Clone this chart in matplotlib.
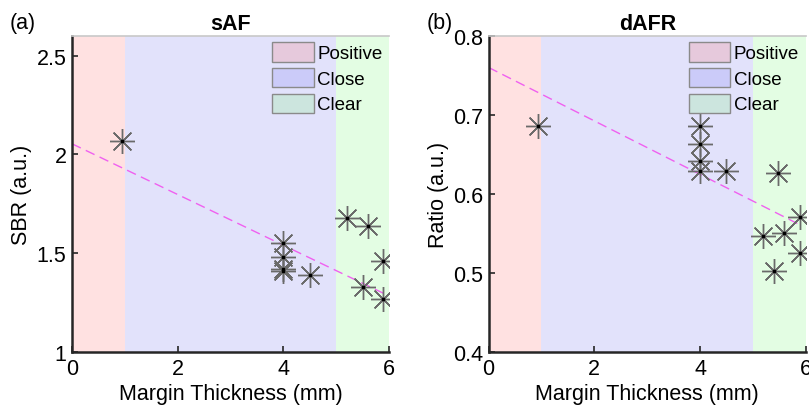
import numpy as np
import matplotlib
matplotlib.use("Agg")
import matplotlib.pyplot as plt
from matplotlib.patches import Patch

plt.rcParams['font.family'] = ['Liberation Sans', 'DejaVu Sans']

# margin classes (mm)
zones = ['Positive', 'Close', 'Clear']
zone_edges = [0, 1, 5, 6]
zone_bg = ['#ffe1e1', '#e2e2fb', '#e3fde3']
zone_leg = ['#e6c9dc', '#cbcbf9', '#cce5de']

# sAF panel
saf_x = [0.95, 4.0, 4.0, 4.0, 4.0, 4.5, 5.2, 5.6, 5.89, 5.5, 5.89]
saf_y = [2.07, 1.55, 1.48, 1.42, 1.41, 1.39, 1.68, 1.64, 1.46, 1.33, 1.27]
saf_fit_x = [0, 5.89]
saf_fit_y = [2.054, 1.298]

# dAFR panel
dafr_x = [0.94, 4.0, 4.0, 4.0, 4.0, 4.49, 5.48, 5.89, 5.19, 5.59, 5.89, 5.40]
dafr_y = [0.686, 0.686, 0.663, 0.642, 0.629, 0.629, 0.627, 0.571, 0.547, 0.551, 0.525, 0.502]
dafr_fit_x = [0, 5.89]
dafr_fit_y = [0.760, 0.561]

fig = plt.figure(figsize=(8.09, 4.14), dpi=100)
ax1 = fig.add_axes([0.089, 0.147, 0.392, 0.764])
ax2 = fig.add_axes([0.604, 0.147, 0.392, 0.764])

panels = [
    (ax1, saf_x, saf_y, saf_fit_x, saf_fit_y, 'sAF', 'SBR (a.u.)', (1, 2.6), [1, 1.5, 2, 2.5]),
    (ax2, dafr_x, dafr_y, dafr_fit_x, dafr_fit_y, 'dAFR', 'Ratio (a.u.)', (0.4, 0.8), [0.4, 0.5, 0.6, 0.7, 0.8]),
]

fs = 15.5
for ax, xs, ys, fx, fy, title, ylab, ylim, yt in panels:
    for i in range(3):
        ax.axvspan(zone_edges[i], zone_edges[i + 1], color=zone_bg[i], lw=0, zorder=0)
    ax.plot(fx, fy, ls=(0, (7, 4)), color='#f060f0', lw=1.0, zorder=2)
    ax.plot(xs, ys, ls='none', marker=(8, 2, 0), ms=18, mec='#6a6a6a', mew=1.0, zorder=3)
    ax.plot(xs, ys, ls='none', marker='s', ms=1.5, color='black', zorder=4)
    ax.set_xlim(0, 6)
    ax.set_ylim(*ylim)
    ax.set_xticks([0, 2, 4, 6])
    ax.set_yticks(yt)
    ax.set_yticklabels([f'{v:g}' for v in yt])
    ax.tick_params(direction='in', length=4, width=1.2, labelsize=fs, colors='#262626', pad=4)
    ax.tick_params(axis='both', labelcolor='black')
    for s in ['left', 'bottom']:
        ax.spines[s].set_linewidth(1.8)
        ax.spines[s].set_color('#262626')
    ax.spines['top'].set_color('#c8c8c8')
    ax.spines['top'].set_linewidth(1.2)
    ax.spines['right'].set_visible(False)
    ax.set_title(title, fontsize=fs, fontweight='bold', pad=5)
    ax.set_xlabel('Margin Thickness (mm)', fontsize=fs, labelpad=3)
    ax.set_ylabel(ylab, fontsize=fs, labelpad=3)
    handles = [Patch(facecolor=zone_leg[i], edgecolor='#8a8a8a', lw=1.0) for i in range(3)]
    ax.legend(handles, zones, loc='upper right', frameon=False, fontsize=13.5,
              handlelength=2.2, handleheight=1.2, handletextpad=0.2,
              labelspacing=0.3, borderaxespad=0.35, borderpad=0.0)

fig.text(0.012, 0.944, '(a)', fontsize=fs, va='center', ha='left')
fig.text(0.527, 0.944, '(b)', fontsize=fs, va='center', ha='left')

fig.savefig('out.png', dpi=100)
